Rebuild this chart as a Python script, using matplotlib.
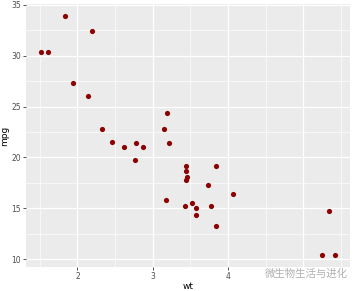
import matplotlib
matplotlib.use("Agg")
import matplotlib.pyplot as plt

# mtcars: weight vs mileage
wt = [2.620, 2.875, 2.320, 3.215, 3.440, 3.460, 3.570, 3.190, 3.150, 3.440, 3.440,
      4.070, 3.730, 3.780, 5.250, 5.424, 5.345, 2.200, 1.615, 1.835, 2.465, 3.520,
      3.435, 3.840, 3.845, 1.935, 2.140, 1.513, 3.170, 2.770, 3.570, 2.780]
mpg = [21.0, 21.0, 22.8, 21.4, 18.7, 18.1, 14.3, 24.4, 22.8, 19.2, 17.8,
       16.4, 17.3, 15.2, 10.4, 10.4, 14.7, 32.4, 30.4, 33.9, 21.5, 15.5,
       15.2, 13.3, 19.2, 27.3, 26.0, 30.4, 15.8, 19.7, 15.0, 21.4]
x_ticks = [2, 3, 4, 5]
y_ticks = [10, 15, 20, 25, 30, 35]

fig = plt.figure(figsize=(3.55, 2.91), dpi=100)
ax = fig.add_axes([26 / 355, 24 / 291, 324 / 355, 263 / 291])
ax.set_facecolor("#EBEBEB")

# ggplot-like expansion (5% each side)
xr = max(wt) - min(wt)
yr = max(mpg) - min(mpg)
ax.set_xlim(min(wt) - 0.05 * xr, max(wt) + 0.05 * xr)
ax.set_ylim(min(mpg) - 0.05 * yr, max(mpg) + 0.05 * yr)

ax.set_xticks(x_ticks)
ax.set_yticks(y_ticks)
ax.set_xticks([1.5, 2.5, 3.5, 4.5, 5.5], minor=True)
ax.set_yticks([12.5, 17.5, 22.5, 27.5, 32.5], minor=True)
ax.grid(True, which="major", color="white", lw=0.9)
ax.grid(True, which="minor", color="white", lw=0.45)
ax.set_axisbelow(True)
for s in ax.spines.values():
    s.set_visible(False)

ax.tick_params(which="major", length=2, width=0.6, color="#333333",
               labelsize=5.5, labelcolor="#4D4D4D", pad=1.5)
ax.tick_params(which="minor", length=0)

ax.scatter(wt, mpg, s=14, color="#8B0000", zorder=3, linewidths=0)

ax.set_xlabel("wt", fontsize=6.5, color="black", labelpad=0.5)
ax.set_ylabel("mpg", fontsize=6.5, color="black", labelpad=1.5)

# watermark (covers the "5" tick label, as in the source image)
fig.text(0.745, 0.06, "微生物生活与进化", fontsize=7.5, color="#B0B0B0",
         family=["Noto Sans CJK SC", "DejaVu Sans"], va="center", ha="left",
         bbox=dict(boxstyle="square,pad=0.1", fc="white", ec="none"), zorder=5)

fig.savefig("out.png", dpi=100)
